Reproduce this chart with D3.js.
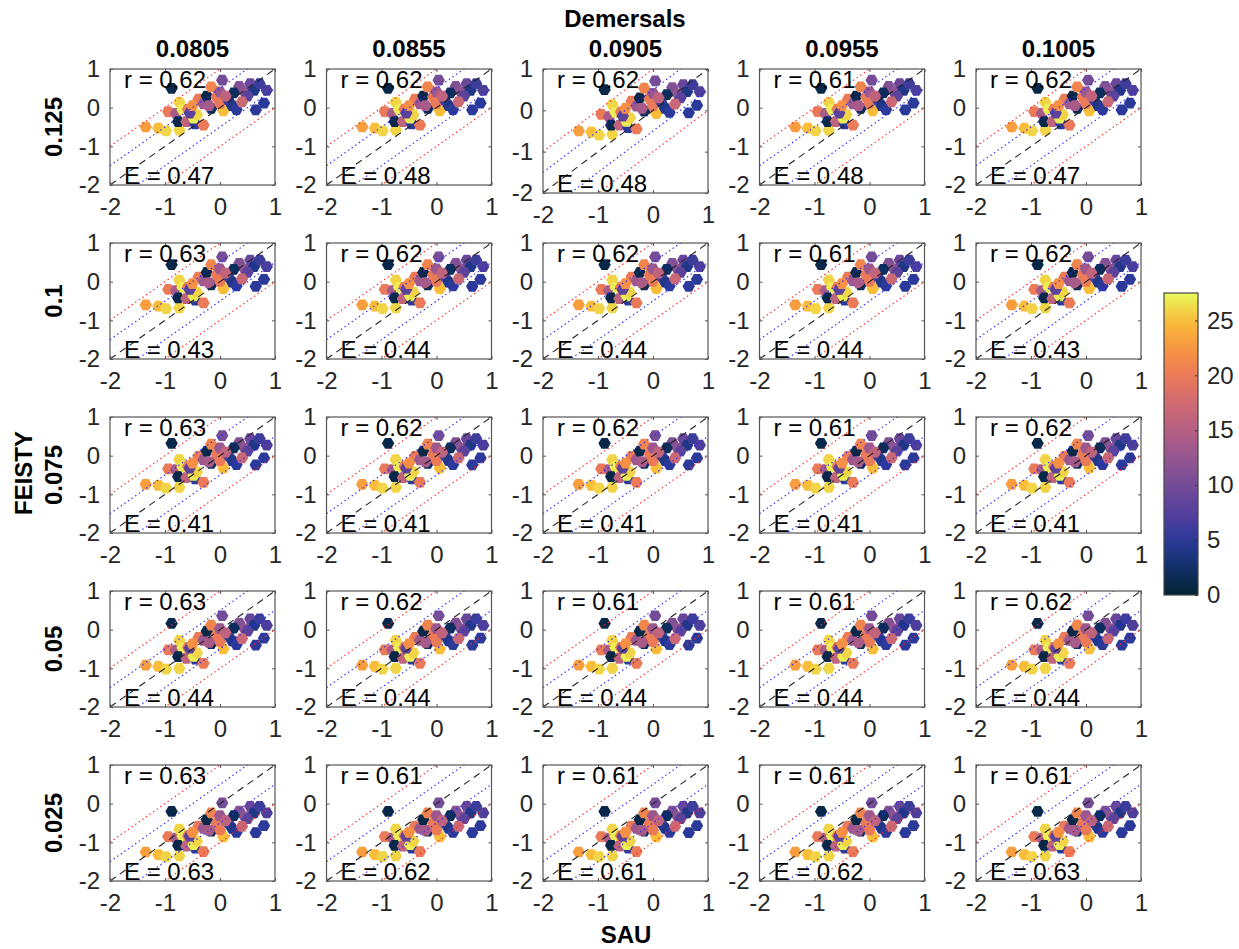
<!DOCTYPE html>
<html>
<head>
<meta charset="utf-8">
<script src="https://cdn.jsdelivr.net/npm/d3@7"></script>
<style>
  body { margin: 0; background: #ffffff; }
  text { font-family: "Liberation Sans", Arial, Helvetica, sans-serif; }
</style>
</head>
<body>
<svg id="fig" width="1239" height="949"></svg>
<script>
// ---- data -------------------------------------------------------------
// Demersal parameter (columns) and FEISTY parameter (rows)
const demersalValues = ["0.0805", "0.0855", "0.0905", "0.0955", "0.1005"];
const feistyValues = ["0.125", "0.1", "0.075", "0.05", "0.025"];

// SAU catch (log10, shared by every panel) and colour variable (temperature)
const sauX = [-1.35, -1.12, -0.98, -0.74, -0.94, -0.80, -0.74, -0.68, -0.58, -0.76,
              -0.61, -0.45, -0.30, -0.48, -0.42, -0.39, -0.30, -0.24, -0.16, -0.16,
              -0.06, 0.00, 0.04, 0.06, 0.00, -0.88, -0.55, -0.50, -0.20, 0.15,
              0.22, 0.30, 0.35, 0.45, 0.55, 0.62, 0.72, 0.80, 0.65, 0.50,
              0.25, 0.10, 0.40, 0.85];
const temperature = [23, 25, 26, 26, 20, 14, 26, 27, 20, 1,
                     16, 5, 20, 27, 26, 20, 13, 1, 21, 2,
                     20, 13, 10, 25, 20, 1, 8, 22, 14, 6,
                     4, 5, 11, 12, 9, 4, 6, 5, 5, 8,
                     2, 16, 17, 7];

// FEISTY catch (log10), one array per FEISTY parameter row
const feisty0125 = [-0.50, -0.53, -0.60, -0.58, -0.10, -0.15, 0.14, -0.05, -0.04, -0.36,
                    -0.36, -0.42, -0.45, -0.27, -0.18, 0.22, 0.10, 0.30, 0.54, -0.02,
                    0.28, 0.41, 0.71, -0.08, 0.11, 0.50, -0.14, 0.05, 0.05, 0.20,
                    0.05, -0.05, 0.55, 0.40, 0.62, 0.45, 0.62, 0.12, -0.06, 0.30,
                    0.38, 0.30, 0.15, 0.45];
const feisty0100 = [-0.60, -0.63, -0.70, -0.68, -0.20, -0.23, 0.04, -0.15, -0.14, -0.42,
                    -0.44, -0.48, -0.55, -0.37, -0.28, 0.12, 0.02, 0.24, 0.44, -0.08,
                    0.18, 0.33, 0.64, -0.18, 0.01, 0.44, -0.20, -0.05, -0.03, 0.14,
                    -0.01, -0.11, 0.47, 0.32, 0.56, 0.39, 0.56, 0.06, -0.12, 0.24,
                    0.32, 0.22, 0.07, 0.39];
const feisty0075 = [-0.74, -0.77, -0.84, -0.82, -0.34, -0.36, -0.10, -0.29, -0.28, -0.54,
                    -0.57, -0.60, -0.69, -0.51, -0.42, -0.02, -0.11, 0.12, 0.30, -0.20,
                    0.04, 0.20, 0.52, -0.32, -0.13, 0.32, -0.32, -0.19, -0.16, 0.02,
                    -0.13, -0.23, 0.34, 0.19, 0.44, 0.27, 0.44, -0.06, -0.24, 0.12,
                    0.20, 0.09, -0.06, 0.27];
const feisty0050 = [-0.92, -0.95, -1.02, -1.00, -0.52, -0.53, -0.28, -0.47, -0.46, -0.70,
                    -0.74, -0.76, -0.87, -0.69, -0.60, -0.20, -0.28, -0.04, 0.12, -0.36,
                    -0.14, 0.03, 0.36, -0.50, -0.31, 0.16, -0.48, -0.37, -0.33, -0.14,
                    -0.29, -0.39, 0.17, 0.02, 0.28, 0.11, 0.28, -0.22, -0.40, -0.04,
                    0.04, -0.08, -0.23, 0.11];
const feisty0025 = [-1.25, -1.32, -1.37, -1.35, -0.85, -0.89, -0.66, -0.84, -0.83, -1.08,
                    -1.10, -1.15, -1.24, -1.06, -0.97, -0.58, -0.64, -0.41, -0.24, -0.71,
                    -0.51, -0.31, 0.02, -0.86, -0.68, -0.20, -0.84, -0.74, -0.69, -0.49,
                    -0.64, -0.74, -0.19, -0.34, -0.07, -0.24, -0.07, -0.57, -0.75, -0.39,
                    -0.31, -0.44, -0.59, -0.24];
const feistyRows = [feisty0125, feisty0100, feisty0075, feisty0050, feisty0025];

// Correlation (r) and error (E) printed in each panel, rows x columns
const rValues = [
  ["0.62", "0.62", "0.62", "0.61", "0.62"],
  ["0.63", "0.62", "0.62", "0.61", "0.62"],
  ["0.63", "0.62", "0.62", "0.61", "0.62"],
  ["0.63", "0.62", "0.61", "0.61", "0.62"],
  ["0.63", "0.61", "0.61", "0.61", "0.61"]
];
const eValues = [
  ["0.47", "0.48", "0.48", "0.48", "0.47"],
  ["0.43", "0.44", "0.44", "0.44", "0.43"],
  ["0.41", "0.41", "0.41", "0.41", "0.41"],
  ["0.44", "0.44", "0.44", "0.44", "0.44"],
  ["0.63", "0.62", "0.61", "0.62", "0.63"]
];

const axisTicks = [-2, -1, 0, 1];
const colourTicks = [0, 5, 10, 15, 20, 25];
const colourMax = 27.5;

// ---- layout -----------------------------------------------------------
const svg = d3.select("#fig");
const FONT = 24;
const panelW = 165, panelH = 116;
const colLeft = c => 110 + c * 216.5;
const rowTop = r => 69 + r * 174;
// the third panel of the first row is drawn slightly taller
const panelHeight = (r, c) => (r === 0 && c === 2) ? 124 : panelH;

// thermal colour map
const thermalStops = ["#042333", "#10306a", "#2b3a9a", "#553f9c", "#744c98", "#965591",
                      "#b45f83", "#d16a72", "#ea7a58", "#f8963f", "#f9bd3a", "#e8fa5b"];
const colour = d3.scaleLinear()
  .domain(thermalStops.map((_, i) => i / (thermalStops.length - 1) * colourMax))
  .range(thermalStops)
  .interpolate(d3.interpolateRgb)
  .clamp(true);

function hexagon(r) {
  const pts = d3.range(6).map(i => {
    const a = Math.PI / 3 * i;
    return [r * Math.cos(a), r * Math.sin(a)];
  });
  return "M" + pts.map(p => p.join(",")).join("L") + "Z";
}
const hexPath = hexagon(6.2);

const defs = svg.append("defs");

feistyRows.forEach((ys, r) => {
  demersalValues.forEach((_, c) => {
    const left = colLeft(c), top = rowTop(r), h = panelHeight(r, c);
    const x = d3.scaleLinear().domain([-2, 1]).range([left, left + panelW]);
    const y = d3.scaleLinear().domain([-2, 1]).range([top + h, top]);
    const id = `clip-${r}-${c}`;
    defs.append("clipPath").attr("id", id)
      .append("rect").attr("x", left).attr("y", top).attr("width", panelW).attr("height", h);

    const g = svg.append("g");
    const plot = g.append("g").attr("clip-path", `url(#${id})`);

    // scatter of FEISTY against SAU
    plot.selectAll("path.pt")
      .data(sauX.map((sx, i) => ({ sx, fy: ys[i], t: temperature[i] })))
      .join("path")
      .attr("class", "pt")
      .attr("d", hexPath)
      .attr("transform", d => `translate(${x(d.sx)},${y(d.fy)})`)
      .attr("fill", d => colour(d.t));

    // 1:1 line with +/-0.5 (blue) and +/-1 (red) bands
    const refLine = (off, stroke, dash, w) => {
      plot.append("line")
        .attr("x1", x(-2)).attr("y1", y(-2 + off))
        .attr("x2", x(1)).attr("y2", y(1 + off))
        .attr("stroke", stroke).attr("stroke-width", w)
        .attr("stroke-dasharray", dash).attr("fill", "none");
    };
    refLine(1, "#ff2a2a", "1.4,3", 1.2);
    refLine(-1, "#ff2a2a", "1.4,3", 1.2);
    refLine(0.5, "#2a2aff", "1.4,3", 1.2);
    refLine(-0.5, "#2a2aff", "1.4,3", 1.2);
    refLine(0, "#222222", "7,5", 1.1);

    // axes with inward ticks
    g.append("g").attr("transform", `translate(0,${top + h})`)
      .call(d3.axisBottom(x).tickValues(axisTicks).tickSize(-3).tickPadding(13).tickFormat(d3.format("d")));
    g.append("g").attr("transform", `translate(${left},0)`)
      .call(d3.axisLeft(y).tickValues(axisTicks).tickSize(-3).tickPadding(10).tickFormat(d3.format("d")));
    g.append("g").attr("transform", `translate(0,${top})`)
      .call(d3.axisTop(x).tickValues(axisTicks).tickSize(-3).tickFormat(""));
    g.append("g").attr("transform", `translate(${left + panelW},0)`)
      .call(d3.axisRight(y).tickValues(axisTicks).tickSize(-3).tickFormat(""));
    g.selectAll(".domain").remove();
    g.selectAll(".tick line").attr("stroke", "#555");
    g.selectAll(".tick text").attr("font-size", FONT).attr("fill", "#262626")
      .attr("font-family", "'Liberation Sans', Arial, Helvetica, sans-serif")
      .text(function () { return this.textContent.replace("\u2212", "-"); });

    g.append("rect").attr("x", left).attr("y", top).attr("width", panelW).attr("height", h)
      .attr("fill", "none").attr("stroke", "#555").attr("stroke-width", 1.2);

    g.append("text").attr("x", left + 14).attr("y", top + 19)
      .attr("font-size", FONT).attr("fill", "#000")
      .text(`r = ${rValues[r][c]}`);
    g.append("text").attr("x", left + 14).attr("y", top + h - 1)
      .attr("font-size", FONT).attr("fill", "#000")
      .text(`E = ${eValues[r][c]}`);
  });
});

// column titles and overall title
demersalValues.forEach((v, c) => {
  svg.append("text").attr("x", colLeft(c) + panelW / 2).attr("y", 57)
    .attr("text-anchor", "middle").attr("font-size", FONT).attr("font-weight", "bold")
    .attr("fill", "#000").text(v);
});
svg.append("text").attr("x", 625).attr("y", 27).attr("text-anchor", "middle")
  .attr("font-size", FONT).attr("font-weight", "bold").attr("fill", "#000").text("Demersals");

// row labels and overall y label
feistyValues.forEach((v, r) => {
  const cy = rowTop(r) + panelH / 2;
  svg.append("text").attr("transform", `translate(62,${cy}) rotate(-90)`)
    .attr("text-anchor", "middle").attr("font-size", FONT).attr("font-weight", "bold")
    .attr("fill", "#000").text(v);
});
svg.append("text").attr("transform", `translate(32,473) rotate(-90)`)
  .attr("text-anchor", "middle").attr("font-size", FONT).attr("font-weight", "bold")
  .attr("fill", "#000").text("FEISTY");
svg.append("text").attr("x", 626).attr("y", 943).attr("text-anchor", "middle")
  .attr("font-size", FONT).attr("font-weight", "bold").attr("fill", "#000").text("SAU");

// colour bar
const cbX = 1164, cbW = 34, cbTop = 293, cbBottom = 595;
const cy = d3.scaleLinear().domain([0, colourMax]).range([cbBottom, cbTop]);
const grad = defs.append("linearGradient").attr("id", "cbgrad")
  .attr("x1", 0).attr("y1", 1).attr("x2", 0).attr("y2", 0);
d3.range(0, 1.0001, 0.05).forEach(f => {
  grad.append("stop").attr("offset", f).attr("stop-color", colour(f * colourMax));
});
svg.append("rect").attr("x", cbX).attr("y", cbTop).attr("width", cbW).attr("height", cbBottom - cbTop)
  .attr("fill", "url(#cbgrad)");
const cbAxis = svg.append("g").attr("transform", `translate(${cbX + cbW},0)`)
  .call(d3.axisRight(cy).tickValues(colourTicks).tickSize(-3).tickPadding(9));
cbAxis.select(".domain").remove();
cbAxis.selectAll(".tick line").attr("stroke", "#333");
cbAxis.selectAll(".tick text").attr("font-size", FONT).attr("fill", "#262626")
  .attr("font-family", "'Liberation Sans', Arial, Helvetica, sans-serif");
svg.append("rect").attr("x", cbX).attr("y", cbTop).attr("width", cbW).attr("height", cbBottom - cbTop)
  .attr("fill", "none").attr("stroke", "#444").attr("stroke-width", 1.2);
</script>
</body>
</html>
